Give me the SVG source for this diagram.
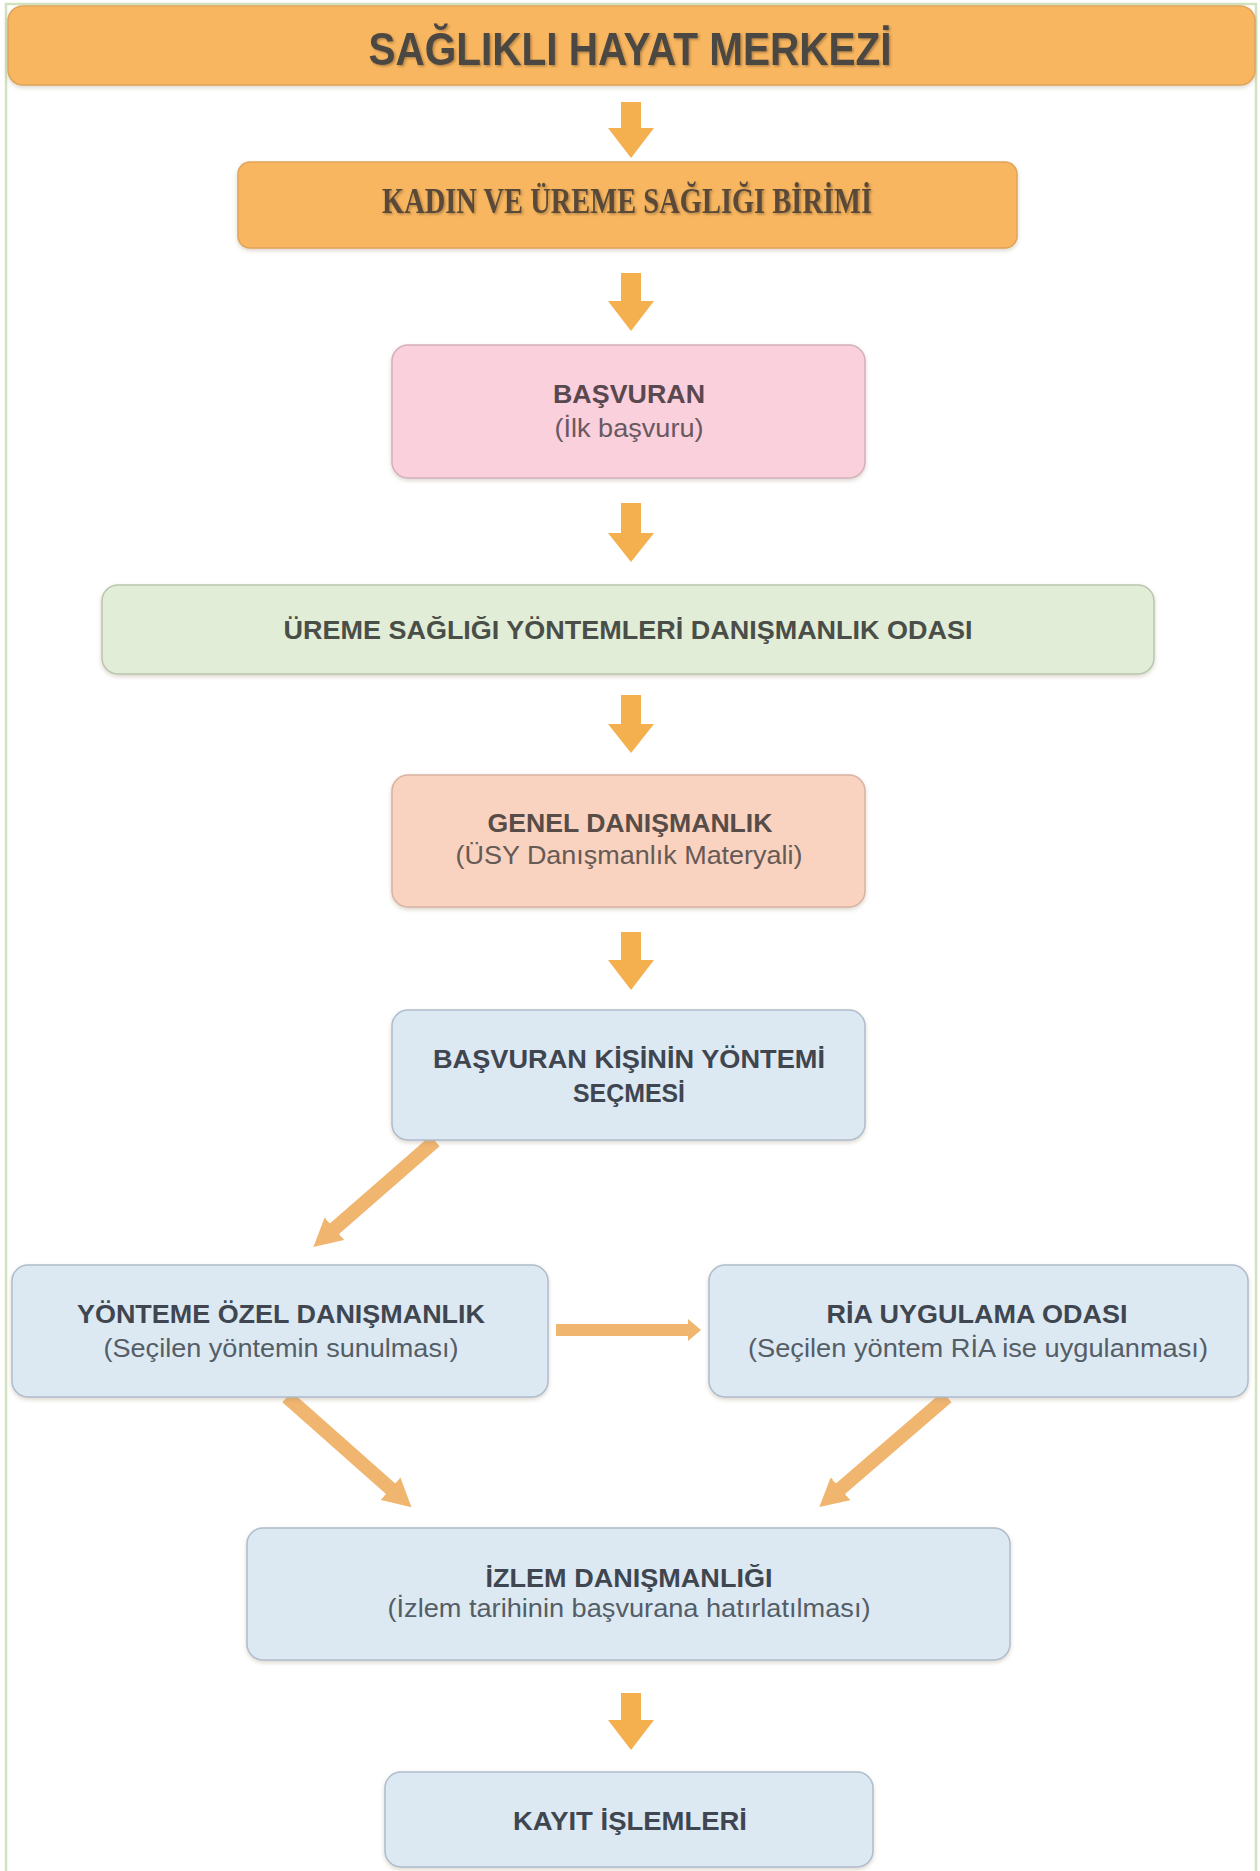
<svg xmlns="http://www.w3.org/2000/svg" width="1260" height="1871" viewBox="0 0 1260 1871">
  <style>
    .t { font-family: "Liberation Sans", Arial, sans-serif; text-anchor: middle; }
    .b { font-weight: bold; font-size: 26px; }
    .r { font-weight: normal; font-size: 26px; }
    .blue { fill: #dce9f3; stroke: #aebccb; stroke-width: 1.5; }
    .tb { fill: #3f4650; }
    .tb2 { fill: #555d66; }
    .arrowV { fill: #f4b04e; }
    .diag { stroke: #f0b56f; stroke-width: 14; fill: none; }
  </style>
  <defs>
    <filter id="sh" x="-10%" y="-30%" width="120%" height="170%">
      <feDropShadow dx="0" dy="2" stdDeviation="2" flood-color="#9a8a70" flood-opacity="0.35"/>
    </filter>
    <filter id="tsh" x="-5%" y="-30%" width="110%" height="160%">
      <feDropShadow dx="1.5" dy="1.5" stdDeviation="1" flood-color="#7a5a30" flood-opacity="0.55"/>
    </filter>
    <marker id="dh" markerUnits="userSpaceOnUse" markerWidth="28" markerHeight="30" viewBox="0 0 28 30" refX="2" refY="15" orient="auto">
      <path d="M0,0 L28,15 L0,30 z" fill="#f0b56f"/>
    </marker>
  </defs>

  <rect x="0" y="0" width="1260" height="1871" fill="#ffffff"/>
  <rect id="frame" x="6" y="4" width="1250" height="1890" fill="none" stroke="#d2e2bf" stroke-width="2.5"/>

  <g id="connectors">
    <polygon class="arrowV" points="621,102 641,102 641,128 654,128 631,158 608,128 621,128"/>
    <polygon class="arrowV" points="621,273 641,273 641,301 654,301 631,331 608,301 621,301"/>
    <polygon class="arrowV" points="621,503 641,503 641,533 654,533 631,562 608,533 621,533"/>
    <polygon class="arrowV" points="621,695 641,695 641,724 654,724 631,753 608,724 621,724"/>
    <polygon class="arrowV" points="621,932 641,932 641,960 654,960 631,990 608,960 621,960"/>
    <line class="diag" x1="435" y1="1141" x2="333" y2="1230" marker-end="url(#dh)"/>
    <polygon fill="#f0b56f" points="556,1324 688,1324 688,1319 701,1330 688,1341 688,1336 556,1336"/>
    <line class="diag" x1="287" y1="1397" x2="392" y2="1490" marker-end="url(#dh)"/>
    <line class="diag" x1="947" y1="1397" x2="839" y2="1490" marker-end="url(#dh)"/>
    <polygon class="arrowV" points="621,1693 641,1693 641,1720 654,1720 631,1750 608,1720 621,1720"/>
  </g>

  <g id="n-shm">
    <rect x="8" y="6" width="1247" height="79" rx="15" fill="#f8b660" stroke="#e0a458" stroke-width="1.5" filter="url(#sh)"/>
    <text class="t" x="630" y="65" font-size="47" font-weight="bold" fill="#4b4742" textLength="523" lengthAdjust="spacingAndGlyphs" filter="url(#tsh)">SAĞLIKLI HAYAT MERKEZİ</text>
  </g>

  <g id="n-kusb">
    <rect x="238" y="162" width="779" height="86" rx="12" fill="#f8b660" stroke="#e0a458" stroke-width="1.5" filter="url(#sh)"/>
    <text x="627" y="213" font-family="'Liberation Serif', 'Times New Roman', serif" font-size="35" font-weight="bold" text-anchor="middle" fill="#5a4a38" textLength="490" lengthAdjust="spacingAndGlyphs" filter="url(#tsh)">KADIN VE ÜREME SAĞLIĞI BİRİMİ</text>
  </g>

  <g id="n-basvuran">
    <rect x="392" y="345" width="473" height="133" rx="16" fill="#f9d0dc" stroke="#d4b0bc" stroke-width="1.5" filter="url(#sh)"/>
    <text class="t b" x="629" y="403" fill="#5a4850" textLength="152" lengthAdjust="spacingAndGlyphs">BAŞVURAN</text>
    <text class="t r" x="629" y="437" fill="#6a5860" textLength="149" lengthAdjust="spacingAndGlyphs">(İlk başvuru)</text>
  </g>

  <g id="n-usy-oda">
    <rect x="102" y="585" width="1052" height="89" rx="16" fill="#e2edd8" stroke="#b9c5ae" stroke-width="1.5" filter="url(#sh)"/>
    <text class="t b" x="628" y="639" fill="#4a4e48" textLength="689" lengthAdjust="spacingAndGlyphs">ÜREME SAĞLIĞI YÖNTEMLERİ DANIŞMANLIK ODASI</text>
  </g>

  <g id="n-genel">
    <rect x="392" y="775" width="473" height="132" rx="16" fill="#fad2c0" stroke="#d8b2a2" stroke-width="1.5" filter="url(#sh)"/>
    <text class="t b" x="630" y="832" fill="#574c48" textLength="285" lengthAdjust="spacingAndGlyphs">GENEL DANIŞMANLIK</text>
    <text class="t r" x="629" y="864" fill="#665a55" textLength="347" lengthAdjust="spacingAndGlyphs">(ÜSY Danışmanlık Materyali)</text>
  </g>

  <g id="n-secme">
    <rect class="blue" x="392" y="1010" width="473" height="130" rx="16" filter="url(#sh)"/>
    <text class="t b tb" x="629" y="1068" textLength="392" lengthAdjust="spacingAndGlyphs">BAŞVURAN KİŞİNİN YÖNTEMİ</text>
    <text class="t b tb" x="629" y="1102" textLength="112" lengthAdjust="spacingAndGlyphs">SEÇMESİ</text>
  </g>

  <g id="n-ozel">
    <rect class="blue" x="12" y="1265" width="536" height="132" rx="16" filter="url(#sh)"/>
    <text class="t b tb" x="281" y="1323" textLength="408" lengthAdjust="spacingAndGlyphs">YÖNTEME ÖZEL DANIŞMANLIK</text>
    <text class="t r tb2" x="281" y="1357" textLength="355" lengthAdjust="spacingAndGlyphs">(Seçilen yöntemin sunulması)</text>
  </g>

  <g id="n-ria">
    <rect class="blue" x="709" y="1265" width="539" height="132" rx="16" filter="url(#sh)"/>
    <text class="t b tb" x="977" y="1323" textLength="301" lengthAdjust="spacingAndGlyphs">RİA UYGULAMA ODASI</text>
    <text class="t r tb2" x="978" y="1357" textLength="460" lengthAdjust="spacingAndGlyphs">(Seçilen yöntem RİA ise uygulanması)</text>
  </g>

  <g id="n-izlem">
    <rect class="blue" x="247" y="1528" width="763" height="132" rx="16" filter="url(#sh)"/>
    <text class="t b tb" x="629" y="1587" textLength="287" lengthAdjust="spacingAndGlyphs">İZLEM DANIŞMANLIĞI</text>
    <text class="t r tb2" x="629" y="1617" textLength="483" lengthAdjust="spacingAndGlyphs">(İzlem tarihinin başvurana hatırlatılması)</text>
  </g>

  <g id="n-kayit">
    <rect class="blue" x="385" y="1772" width="488" height="95" rx="16" filter="url(#sh)"/>
    <text class="t b tb" x="630" y="1830" font-size="27" textLength="234" lengthAdjust="spacingAndGlyphs">KAYIT İŞLEMLERİ</text>
  </g>
</svg>
